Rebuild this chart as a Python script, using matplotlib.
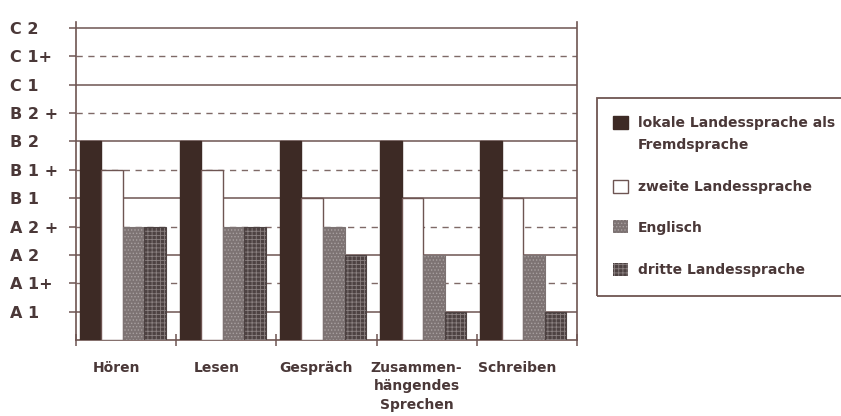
import numpy as np
import matplotlib
matplotlib.use('Agg')
import matplotlib.pyplot as plt
from matplotlib.patches import Rectangle

# Daten
kategorien = ['Hören', 'Lesen', 'Gespräch', 'Zusammen-\nhängendes\nSprechen', 'Schreiben']
niveaus = ['A 1', 'A 1+', 'A 2', 'A 2 +', 'B 1', 'B 1 +', 'B 2', 'B 2 +', 'C 1', 'C 1+', 'C 2']

# Niveau als Index (1 = A 1 ... 11 = C 2)
lokale = [7, 7, 7, 7, 7]
zweite = [6, 6, 5, 5, 5]
englisch = [4, 4, 4, 3, 3]
dritte = [4, 4, 3, 1, 1]

serien = ['lokale Landessprache als\nFremdsprache', 'zweite Landessprache',
          'Englisch', 'dritte Landessprache']

linie = '#6e5552'
strich = '#7f6a67'
schrift = '#4a3838'
farben = ['#3d2a25', '#ffffff', '#7d7373', '#4d4242']
muster = [None, None, '.....', '++++']
musterfarbe = [None, None, '#a8a0a0', '#8a8080']

plt.rcParams['hatch.linewidth'] = 0.6

fig = plt.figure(figsize=(8.41, 4.16), dpi=100)
ax = fig.add_axes([76/841, 1-340/416, (577-76)/841, (340-22)/416])

n = len(kategorien)
x = np.arange(n)
breite = 0.215
start = 0.035

# Gitterlinien: volle Niveaus durchgezogen, "+" gestrichelt
for lev in range(1, 12):
    if lev % 2 == 1:
        ax.axhline(lev, color=linie, lw=1.1, zorder=1)
    else:
        ax.axhline(lev, color=strich, lw=1.0, ls=(0, (4.5, 4)), zorder=1)

daten = [lokale, zweite, englisch, dritte]
for k, werte in enumerate(daten):
    pos = x + start + k*breite
    if muster[k] is None:
        ec = farben[k] if k == 0 else linie
        ax.bar(pos, werte, width=breite, align='edge', color=farben[k],
               edgecolor=ec, linewidth=1.0, zorder=3)
    else:
        ax.bar(pos, werte, width=breite, align='edge', color=farben[k],
               edgecolor=musterfarbe[k], hatch=muster[k], linewidth=0, zorder=3)
        ax.bar(pos, werte, width=breite, align='edge', fill=False,
               edgecolor=farben[k], linewidth=0.8, zorder=4)

ax.set_xlim(0, n)
ax.set_ylim(0, 11.21)

ax.spines['top'].set_visible(False)
for s in ['left', 'right', 'bottom']:
    ax.spines[s].set_color(linie)
    ax.spines[s].set_linewidth(1.2)

ax.set_yticks(range(1, 12))
ax.set_yticklabels(niveaus, fontsize=11.5, fontweight='bold', color=schrift)
ax.tick_params(axis='y', direction='out', length=5, width=1.1, color=linie, pad=42.5)
for t in ax.get_yticklabels():
    t.set_horizontalalignment('left')

ax.set_xticks(range(n+1))
ax.set_xticklabels([])
ax.set_xticks(x + 0.40, minor=True)
ax.set_xticklabels(kategorien, minor=True, fontsize=10, fontweight='bold',
                   color=schrift, linespacing=1.4)
ax.tick_params(axis='x', which='major', direction='inout', length=8, width=1.1, color=linie)
ax.tick_params(axis='x', which='minor', length=0, pad=15)

# Legende
fig.patches.append(Rectangle((597/841, 1-296/416), 0.4, (296-98)/416,
                             transform=fig.transFigure, fill=False,
                             edgecolor=linie, linewidth=1.3))
zeilen_y = [122, 186, 227, 269]
for k, name in enumerate(serien):
    yy = 1 - zeilen_y[k]/416
    if muster[k] is None:
        fig.patches.append(Rectangle((613/841, yy - 6.5/416), 15/841, 13/416,
                                     facecolor=farben[k], transform=fig.transFigure,
                                     edgecolor=farben[k] if k == 0 else linie, linewidth=1.0))
    else:
        fig.patches.append(Rectangle((613/841, yy - 6.5/416), 15/841, 13/416,
                                     facecolor=farben[k], edgecolor=musterfarbe[k],
                                     hatch=muster[k], transform=fig.transFigure, linewidth=0))
    fig.text(638/841, yy + 6/416, name, fontsize=10, fontweight='bold', color=schrift,
             ha='left', va='top', linespacing=1.75)

fig.savefig('out.png', dpi=100)
